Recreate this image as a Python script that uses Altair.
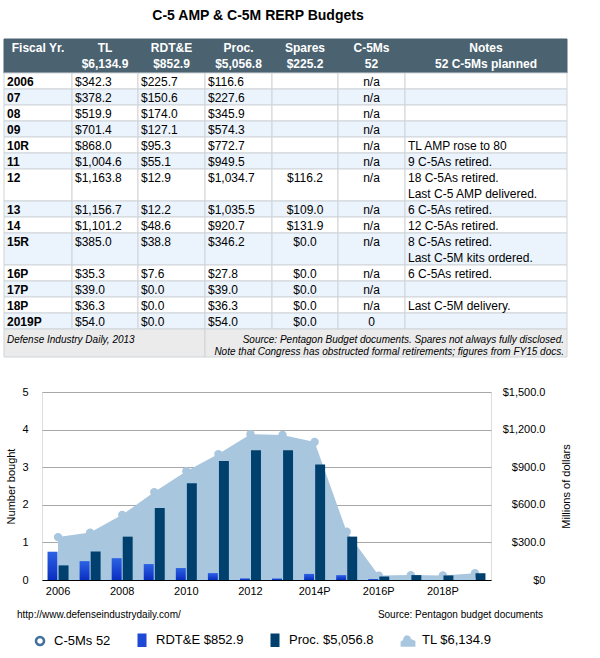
import altair as alt
import pandas as pd

FONT = "Liberation Sans"

# ---------------- data ----------------
title_text = "C-5 AMP & C-5M RERP Budgets"
header_top = ["Fiscal Yr.", "TL", "RDT&E", "Proc.", "Spares", "C-5Ms", "Notes"]
header_bottom = ["", "$6,134.9", "$852.9", "$5,056.8", "$225.2", "52", "52 C-5Ms planned"]
fiscal_years = ["2006", "07", "08", "09", "10R", "11", "12", "13", "14", "15R", "16P", "17P", "18P", "2019P"]
chart_years = ["2006", "2007", "2008", "2009", "2010", "2011", "2012", "2013",
               "2014P", "2015P", "2016P", "2017P", "2018P", "2019P"]
tl = [342.3, 378.2, 519.9, 701.4, 868.0, 1004.6, 1163.8, 1156.7, 1101.2, 385.0, 35.3, 39.0, 36.3, 54.0]
rdte = [225.7, 150.6, 174.0, 127.1, 95.3, 55.1, 12.9, 12.2, 48.6, 38.8, 7.6, 0.0, 0.0, 0.0]
proc = [116.6, 227.6, 345.9, 574.3, 772.7, 949.5, 1034.7, 1035.5, 920.7, 346.2, 27.8, 39.0, 36.3, 54.0]
spares = [None, None, None, None, None, None, 116.2, 109.0, 131.9, 0.0, 0.0, 0.0, 0.0, 0.0]
c5m = [None] * 13 + [0]
notes = [[], [], [], [], ["TL AMP rose to 80"], ["9 C-5As retired."],
         ["18 C-5As retired.", "Last C-5 AMP delivered."], ["6 C-5As retired."],
         ["12 C-5As retired."], ["8 C-5As retired.", "Last C-5M kits ordered."],
         ["6 C-5As retired."], [], ["Last C-5M delivery."], []]
footer_left = "Defense Industry Daily, 2013"
footer_right = ["Source: Pentagon Budget documents. Spares not always fully disclosed.",
                "Note that Congress has obstructed formal retirements; figures from FY15 docs."]
url_note = "http://www.defenseindustrydaily.com/"
source_note = "Source: Pentagon budget documents"
legend_labels = ["C-5Ms 52", "RDT&E $852.9", "Proc. $5,056.8", "TL $6,134.9"]
count_ticks = [0, 1, 2, 3, 4, 5]
dollar_ticks = [0, 300, 600, 900, 1200, 1500]

# ---------------- layout / style ----------------
CANVAS_W, CANVAS_H = 600, 658
PLOT_L, PLOT_T, PLOT_W, PLOT_H = 42, 392, 449, 188
COL_EDGES = [4, 72, 138, 205, 272, 338, 405, 567]
HEAD_Y0, HEAD_Y1 = 39, 73
LINE_H = 16
FOOT_H = 28
HEAD_BG = "#4b6371"
ROW_BG = ["#ffffff", "#ebf3fc"]
GRID = "#cfd4d8"
FOOT_BG = "#ebebeb"
AREA_C = "#a9c6df"
PROC_C = "#00406e"
RDTE_C = "#1d49d6"
C5M_C = "#41709f"

cx = alt.Scale(domain=[0, CANVAS_W], range=[-PLOT_L, CANVAS_W - PLOT_L], nice=False, zero=False)
cy = alt.Scale(domain=[0, CANVAS_H], range=[-PLOT_T, CANVAS_H - PLOT_T], nice=False, zero=False)

# ---------------- table geometry ----------------
rows_lines = [max(1, len(n)) for n in notes]
row_tops = []
t = HEAD_Y1
for n in rows_lines:
    row_tops.append(t)
    t += n * LINE_H
foot_top = t
foot_bottom = t + FOOT_H

cells = [dict(x0=COL_EDGES[0], x1=COL_EDGES[-1], y0=HEAD_Y0, y1=HEAD_Y1, fill=HEAD_BG, stroke=HEAD_BG)]
for i, (top, n) in enumerate(zip(row_tops, rows_lines)):
    for c in range(7):
        cells.append(dict(x0=COL_EDGES[c], x1=COL_EDGES[c + 1], y0=top, y1=top + n * LINE_H,
                          fill=ROW_BG[i % 2], stroke=GRID))
cells.append(dict(x0=COL_EDGES[0], x1=COL_EDGES[3], y0=foot_top, y1=foot_bottom, fill=FOOT_BG, stroke=GRID))
cells.append(dict(x0=COL_EDGES[3], x1=COL_EDGES[-1], y0=foot_top, y1=foot_bottom, fill=FOOT_BG, stroke=GRID))
cells_df = pd.DataFrame(cells)


def money(v):
    return "" if v is None else f"${v:,.1f}"


texts = [dict(style="title", x=258, y=16, text=title_text)]
for c in range(7):
    mid = (COL_EDGES[c] + COL_EDGES[c + 1]) / 2
    texts.append(dict(style="head", x=mid, y=HEAD_Y0 + 9, text=header_top[c]))
    if header_bottom[c]:
        texts.append(dict(style="head", x=mid, y=HEAD_Y0 + 25, text=header_bottom[c]))
for i, top in enumerate(row_tops):
    y = top + 9
    texts.append(dict(style="first", x=COL_EDGES[0] + 3, y=y, text=fiscal_years[i]))
    for c, arr in [(1, tl), (2, rdte), (3, proc)]:
        texts.append(dict(style="left", x=COL_EDGES[c] + 3, y=y, text=money(arr[i])))
    if spares[i] is not None:
        texts.append(dict(style="center", x=(COL_EDGES[4] + COL_EDGES[5]) / 2, y=y, text=money(spares[i])))
    texts.append(dict(style="center", x=(COL_EDGES[5] + COL_EDGES[6]) / 2, y=y,
                      text="n/a" if c5m[i] is None else str(c5m[i])))
    for k, line in enumerate(notes[i]):
        texts.append(dict(style="left", x=COL_EDGES[6] + 3, y=y + k * LINE_H, text=line))
texts.append(dict(style="foot_l", x=COL_EDGES[0] + 3, y=foot_top + 11, text=footer_left))
for k, line in enumerate(footer_right):
    texts.append(dict(style="foot_r", x=COL_EDGES[-1] - 3, y=foot_top + 11 + 12 * k, text=line))
texts.append(dict(style="note_l", x=17, y=615, text=url_note))
texts.append(dict(style="note_r", x=543, y=615, text=source_note))
texts_df = pd.DataFrame(texts)

cell_layer = alt.Chart(cells_df).mark_rect(strokeWidth=1).encode(
    x=alt.X("x0:Q", scale=cx, axis=None), x2="x1:Q",
    y=alt.Y("y0:Q", scale=cy, axis=None), y2="y1:Q",
    fill=alt.Fill("fill:N", scale=None), stroke=alt.Stroke("stroke:N", scale=None),
)


def text_layer(style, **kw):
    return alt.Chart(texts_df).transform_filter(alt.datum.style == style).mark_text(
        font=FONT, baseline="middle", **kw).encode(
        x=alt.X("x:Q", scale=cx, axis=None), y=alt.Y("y:Q", scale=cy, axis=None), text="text:N")


table_layer = alt.layer(
    cell_layer,
    text_layer("title", fontSize=14, fontWeight="bold", align="center", color="black"),
    text_layer("head", fontSize=12, fontWeight="bold", align="center", color="white"),
    text_layer("first", fontSize=12, fontWeight="bold", align="left", color="black"),
    text_layer("left", fontSize=12, align="left", color="black"),
    text_layer("center", fontSize=12, align="center", color="black"),
    text_layer("foot_l", fontSize=10, fontStyle="italic", align="left", color="black"),
    text_layer("foot_r", fontSize=10, fontStyle="italic", align="right", color="black"),
    text_layer("note_l", fontSize=10, align="left", color="black"),
    text_layer("note_r", fontSize=10, align="right", color="black"),
)

# ---------------- combo chart ----------------
chart_df = pd.DataFrame({"year": chart_years, "tl": tl, "c5m": c5m})
bars_df = pd.DataFrame({
    "year": chart_years * 2,
    "series": ["RDT&E"] * len(chart_years) + ["Proc."] * len(chart_years),
    "value": rdte + proc,
})

x_axis = alt.Axis(title=None, values=chart_years[::2], labelAngle=0, ticks=False, grid=False,
                  domain=True, domainColor="black", domainWidth=1, labelPadding=5,
                  labelFont=FONT, labelFontSize=11, labelColor="black")
x_enc = alt.X("year:N", scale=alt.Scale(type="band", domain=chart_years, paddingInner=0.345,
                                        paddingOuter=0.1725), axis=x_axis)

left_axis = alt.Axis(title="Number bought", values=count_ticks, grid=True, gridColor="#a8a8a8",
                     gridWidth=1, domain=False, ticks=False, labelPadding=14, labelFont=FONT,
                     labelFontSize=11, labelColor="black", titleFont=FONT, titleFontSize=11,
                     titleFontWeight="normal", titleColor="black", titleX=-31, titleY=PLOT_H / 2,
                     titleBaseline="middle", titleAngle=270)
right_axis = alt.Axis(orient="right", title="Millions of dollars", values=dollar_ticks,
                      labelExpr="datum.value == 0 ? '$0' : '$' + format(datum.value, ',.1f')",
                      grid=False, domain=False, ticks=False, labelAlign="right", labelPadding=54,
                      labelFont=FONT, labelFontSize=11, labelColor="black", titleFont=FONT,
                      titleFontSize=11, titleFontWeight="normal", titleColor="black",
                      titleX=75, titleY=PLOT_H / 2, titleBaseline="middle", titleAngle=270)
y_dollar = alt.Scale(domain=[0, 1500], nice=False, zero=True)

c5m_line = alt.Chart(chart_df).mark_line(color=C5M_C, strokeWidth=2).encode(
    x=x_enc, y=alt.Y("c5m:Q", scale=alt.Scale(domain=[0, 5], nice=False), axis=left_axis))

area = alt.Chart(chart_df).mark_area(color=AREA_C, opacity=1).encode(
    x=x_enc, y=alt.Y("tl:Q", scale=y_dollar, axis=right_axis))
area_pts = alt.Chart(chart_df).mark_point(filled=True, shape="circle", size=70, color=AREA_C,
                                          opacity=1).encode(
    x=x_enc, y=alt.Y("tl:Q", scale=y_dollar, axis=right_axis))

x_off = alt.XOffset("series:N", scale=alt.Scale(domain=["RDT&E", "Proc."], paddingInner=0.1,
                                                  paddingOuter=0))
rdte_grad = alt.Gradient(gradient="linear",
                         stops=[alt.GradientStop(color="#2c62e3", offset=0),
                                alt.GradientStop(color="#0a2ec2", offset=1)],
                         x1=0, x2=0, y1=0, y2=1)
rdte_bars = alt.Chart(bars_df).transform_filter(alt.datum.series == "RDT&E").mark_bar(
    fill=rdte_grad).encode(x=x_enc, xOffset=x_off,
                           y=alt.Y("value:Q", scale=y_dollar, axis=right_axis))
proc_bars = alt.Chart(bars_df).transform_filter(alt.datum.series == "Proc.").mark_bar(
    color=PROC_C).encode(x=x_enc, xOffset=x_off,
                         y=alt.Y("value:Q", scale=y_dollar, axis=right_axis))

dollar_layer = alt.layer(area, area_pts, rdte_bars, proc_bars)
chart_group = alt.layer(c5m_line, dollar_layer).resolve_scale(y="independent")

# ---------------- legend ----------------
legend_shapes = [
    "M0.62,0A0.62,0.62,0,1,1,-0.62,0A0.62,0.62,0,1,1,0.62,0Z",
    "M-0.5,-0.85L0.5,-0.85L0.5,0.85L-0.5,0.85Z",
    "M-0.5,-0.85L0.5,-0.85L0.5,0.85L-0.5,0.85Z",
    "M-0.95,0.8L-0.95,0.3L-0.5,0.0A0.4,0.4,0,1,1,0.25,-0.1L0.95,0.2L0.95,0.8Z",
]
legend_fills = ["#ffffff", RDTE_C, PROC_C, AREA_C]
legend_strokes = [C5M_C, RDTE_C, PROC_C, AREA_C]
leg = alt.Legend(orient="none", legendX=-10, legendY=240, direction="horizontal", title=None,
                 labelFont=FONT, labelFontSize=13, labelColor="black", symbolSize=169,
                 symbolStrokeWidth=2.5, symbolOpacity=1, columnPadding=22, labelOffset=6,
                 padding=0, columns=4)
legend_df = pd.DataFrame({"series": legend_labels})
legend_layer = alt.Chart(legend_df).mark_point(filled=True, opacity=0, size=169).encode(
    shape=alt.Shape("series:N", scale=alt.Scale(domain=legend_labels, range=legend_shapes), legend=leg),
    fill=alt.Fill("series:N", scale=alt.Scale(domain=legend_labels, range=legend_fills), legend=leg),
    stroke=alt.Stroke("series:N", scale=alt.Scale(domain=legend_labels, range=legend_strokes), legend=leg),
)

chart = alt.layer(table_layer, chart_group, legend_layer).resolve_scale(
    x="independent", y="independent"
).properties(
    width=PLOT_W, height=PLOT_H, autosize="none",
    padding={"left": PLOT_L, "top": PLOT_T, "right": CANVAS_W - PLOT_L - PLOT_W,
             "bottom": CANVAS_H - PLOT_T - PLOT_H},
).configure_view(stroke=None).configure(font=FONT)

chart.save("out.html", embed_options={"renderer": "svg", "actions": False})
